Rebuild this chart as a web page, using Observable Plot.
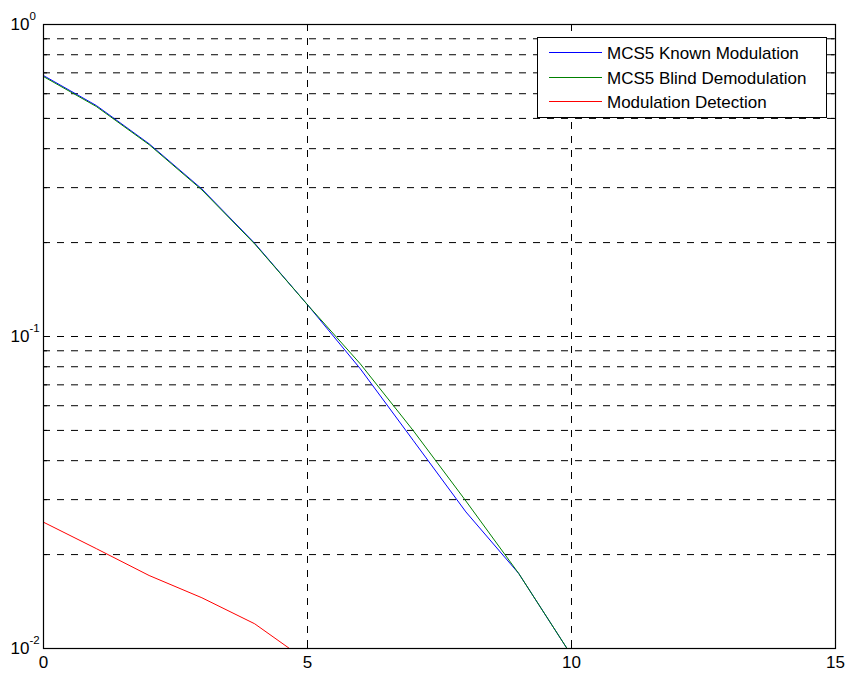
<!DOCTYPE html>
<html>
<head>
<meta charset="utf-8">
<script src="https://cdn.jsdelivr.net/npm/d3@7"></script>
<script src="https://cdn.jsdelivr.net/npm/@observablehq/plot@0.6"></script>
<style>
  html, body { margin: 0; padding: 0; background: #fff; }
  #wrap { position: relative; width: 847px; height: 673px; font-family: "Liberation Sans", Arial, sans-serif; }
</style>
</head>
<body>
<div id="wrap"></div>
<script>
// ---- data ----
const snr = [0, 1, 2, 3, 4, 5, 6, 7, 8, 9, 10];
const knownMod = [0.686, 0.550, 0.4146, 0.297, 0.199, 0.1264, 0.0788, 0.0465, 0.0274, 0.0174, 0.0095];
const blindDemod = [0.681, 0.546, 0.412, 0.295, 0.198, 0.1264, 0.0817, 0.0500, 0.0297, 0.0174, 0.0095];
const detSnr = [0, 1, 2, 3, 4, 5];
const modDetect = [0.0254, 0.0209, 0.01714, 0.01454, 0.0120, 0.0091];

const seriesNames = ["MCS5 Known Modulation", "MCS5 Blind Demodulation", "Modulation Detection"];
const seriesColors = ["#0000ff", "#008000", "#ff0000"];

const xDomain = [0, 15];
const yDomain = [0.01, 1];
const xTicks = [0, 5, 10, 15];
const xGrid = [5, 10];
const yMajor = [0.01, 0.1, 1];
const yMajorBase = ["10", "10", "10"];
const yMajorExp = ["-2", "-1", "0"];
const yMinor = [0.02, 0.03, 0.04, 0.05, 0.06, 0.07, 0.08, 0.09, 0.2, 0.3, 0.4, 0.5, 0.6, 0.7, 0.8, 0.9];
const yGrid = [...yMinor, 0.1];

// ---- tables ----
const lineData = [
  ...snr.map((x, i) => ({x, y: knownMod[i], s: seriesNames[0]})),
  ...snr.map((x, i) => ({x, y: blindDemod[i], s: seriesNames[1]})),
  ...detSnr.map((x, i) => ({x, y: modDetect[i], s: seriesNames[2]}))
];

const dash = "7,7";
const chart = Plot.plot({
  width: 847, height: 673,
  marginLeft: 43, marginRight: 12, marginTop: 24, marginBottom: 25,
  style: {fontFamily: '"Liberation Sans", Arial, sans-serif', background: "#fff", color: "#000"},
  x: {domain: xDomain, axis: null},
  y: {type: "log", domain: yDomain, axis: null},
  color: {domain: seriesNames, range: seriesColors},
  marks: [
    Plot.ruleX(xGrid, {stroke: "#000", strokeWidth: 1, strokeDasharray: dash}),
    Plot.ruleY(yGrid, {stroke: "#000", strokeWidth: 1, strokeDasharray: dash}),
    // inward ticks
    Plot.ruleX(xTicks, {y1: yDomain[0], y2: yDomain[0], insetTop: -7, stroke: "#000"}),
    Plot.ruleX(xTicks, {y1: yDomain[1], y2: yDomain[1], insetBottom: -7, stroke: "#000"}),
    Plot.ruleY(yMajor, {x1: xDomain[0], x2: xDomain[0], insetRight: -7, stroke: "#000"}),
    Plot.ruleY(yMajor, {x1: xDomain[1], x2: xDomain[1], insetLeft: -7, stroke: "#000"}),
    Plot.ruleY(yMinor, {x1: xDomain[0], x2: xDomain[0], insetRight: -4, stroke: "#000"}),
    Plot.ruleY(yMinor, {x1: xDomain[1], x2: xDomain[1], insetLeft: -4, stroke: "#000"}),
    Plot.line(lineData, {x: "x", y: "y", z: "s", stroke: "s", strokeWidth: 1, clip: true, curve: "linear"}),
    Plot.frame({stroke: "#000", strokeWidth: 1.2}),
    // tick labels
    Plot.text(xTicks, {x: d => d, y: yDomain[0], text: d => String(d), dy: 14, fontSize: 17, fill: "#000"}),
    Plot.text(yMajor, {x: xDomain[0], y: d => d, text: (d, i) => yMajorBase[i], textAnchor: "end", dx: -14, fontSize: 17, fill: "#000"}),
    Plot.text(yMajor, {x: xDomain[0], y: d => d, text: (d, i) => yMajorExp[i], textAnchor: "start", dx: -14, dy: -8, fontSize: 11.5, fill: "#000"})
  ]
});

const wrap = document.getElementById("wrap");
wrap.appendChild(chart);

// legend drawn into the chart's SVG (box, swatches, labels)
const svg = d3.select(chart);
const lg = svg.append("g").attr("class", "legend").attr("text-anchor", "start");
const box = {left: 537.5, top: 37.5, width: 289, height: 80};
const rowY = [52.5, 77.5, 101.5];
lg.append("rect")
  .attr("x", box.left).attr("y", box.top).attr("width", box.width).attr("height", box.height)
  .attr("fill", "#fff").attr("stroke", "#000").attr("stroke-width", 1);
seriesNames.forEach((name, i) => {
  lg.append("line")
    .attr("x1", 549).attr("x2", 602)
    .attr("y1", rowY[i]).attr("y2", rowY[i])
    .attr("stroke", seriesColors[i]).attr("stroke-width", 1)
    .attr("shape-rendering", "crispEdges");
  lg.append("text")
    .attr("x", 607).attr("y", rowY[i])
    .attr("dy", "0.36em")
    .attr("text-anchor", "start")
    .attr("font-size", 17)
    .attr("fill", "#000")
    .text(name);
});
</script>
</body>
</html>
